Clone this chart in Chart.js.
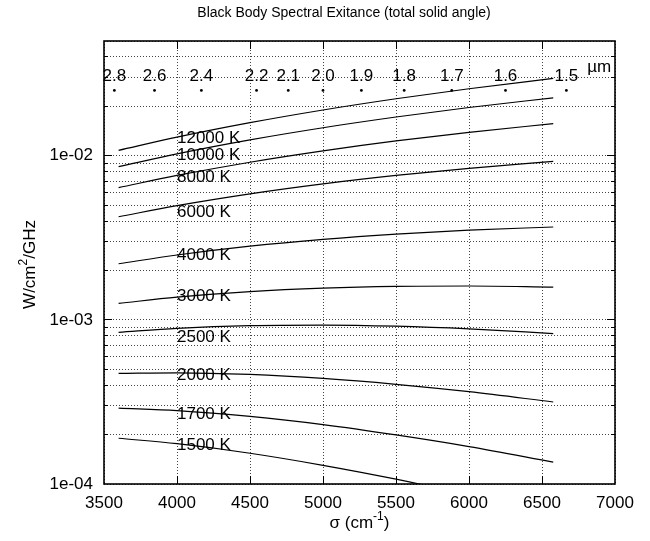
<!DOCTYPE html>
<html>
<head>
<meta charset="utf-8">
<script src="https://cdn.jsdelivr.net/npm/chart.js@4.4.1/dist/chart.umd.min.js"></script>
<style>
html, body { margin: 0; padding: 0; background: #fff; }
canvas { display: block; }
</style>
</head>
<body>
<canvas id="c" width="650" height="541"></canvas>
<script>
// Wavenumbers (cm^-1) at which each curve is sampled
const wavenumbers = [3600, 4000, 4500, 5000, 5500, 6000, 6577];

// Curve names
const temperatures = ['12000 K', '10000 K', '8000 K', '6000 K', '4000 K',
                      '3000 K', '2500 K', '2000 K', '1700 K', '1500 K'];

// Spectral exitance, W/cm^2/GHz, one array per temperature
const exitance12000 = [0.01079, 0.01298, 0.01590, 0.01900, 0.02224, 0.02560, 0.02958];
const exitance10000 = [0.008581, 0.01027, 0.01249, 0.01481, 0.01721, 0.01967, 0.02253];
const exitance8000  = [0.006395, 0.007584, 0.009125, 0.01070, 0.01230, 0.01388, 0.01569];
const exitance6000  = [0.004248, 0.004963, 0.005856, 0.006734, 0.007582, 0.008384, 0.009244];
const exitance4000  = [0.002197, 0.002484, 0.002811, 0.003095, 0.003333, 0.003522, 0.003679];
const exitance3000  = [0.001260, 0.001375, 0.001486, 0.001560, 0.001600, 0.001608, 0.001583];
const exitance2500  = [0.000839, 0.000888, 0.000923, 0.000930, 0.000915, 0.000881, 0.000825];
const exitance2000  = [0.000472, 0.000476, 0.000465, 0.000440, 0.000405, 0.000365, 0.000316];
const exitance1700  = [0.000290, 0.000280, 0.000258, 0.000230, 0.000199, 0.000169, 0.000136];
const exitance1500  = [0.000190, 0.000176, 0.000154, 0.000130, 0.000107, 0.0000856, 0.0000647];

// Where each curve's name is written (wavenumber, exitance)
const curveLabelWavenumber = 4000;
const curveLabelLevels = [0.0128, 0.0100, 0.00737, 0.00451, 0.00249,
                          0.00139, 0.000786, 0.000457, 0.000264, 0.000173];

// Wavelength scale marked along the top of the plot
const wavelengthLabels = ['2.8', '2.6', '2.4', '2.2', '2.1', '2.0', '1.9', '1.8', '1.7', '1.6', '1.5'];
const wavelengthWavenumbers = [3571, 3846, 4167, 4545, 4762, 5000, 5263, 5556, 5882, 6250, 6667];
const wavelengthDotLevel = 0.025;
const wavelengthTextLevel = 0.0305;
const wavelengthUnit = 'µm';
const wavelengthUnitPos = [6810, 0.0345];

// Axis ranges and ticks
const xMin = 3500, xMax = 7000, xStep = 500;
const yMin = 1e-4, yMax = 0.05;
const yTickValues = [
  1e-4, 2e-4, 3e-4, 4e-4, 5e-4, 6e-4, 7e-4, 8e-4, 9e-4,
  1e-3, 2e-3, 3e-3, 4e-3, 5e-3, 6e-3, 7e-3, 8e-3, 9e-3,
  1e-2, 2e-2, 3e-2, 4e-2, 5e-2
];
const yDecadeValues = [1e-4, 1e-3, 1e-2];
const yDecadeLabels = ['1e-04', '1e-03', '1e-02'];

const titleText = 'Black Body Spectral Exitance (total solid angle)';

const FONT = '"Liberation Sans", Arial, Helvetica, sans-serif';
const seriesList = [exitance12000, exitance10000, exitance8000, exitance6000, exitance4000,
                    exitance3000, exitance2500, exitance2000, exitance1700, exitance1500];

function isDecade(v) {
  return yDecadeValues.some(d => Math.abs(v / d - 1) < 1e-9);
}

const curveDatasets = seriesList.map((vals, i) => ({
  label: temperatures[i],
  data: wavenumbers.map((s, j) => ({ x: s, y: vals[j] })),
  borderColor: '#000',
  borderWidth: 1.2,
  pointRadius: 0,
  fill: false,
  cubicInterpolationMode: 'monotone'
}));

const markerDataset = {
  label: 'wavelength',
  data: wavelengthWavenumbers.map(s => ({ x: s, y: wavelengthDotLevel })),
  showLine: false,
  pointRadius: 1.4,
  pointBackgroundColor: '#000',
  pointBorderWidth: 0,
  borderColor: '#000'
};

function supText(ctx, parts, x, y, size) {
  // parts: [text, isSuperscript]; the whole run is centred on x
  const widths = parts.map(([t, sup]) => {
    ctx.font = (sup ? Math.round(size * 0.7) : size) + 'px ' + FONT;
    return ctx.measureText(t).width;
  });
  const total = widths.reduce((a, b) => a + b, 0);
  let cx = x - total / 2;
  parts.forEach(([t, sup], i) => {
    ctx.font = (sup ? Math.round(size * 0.7) : size) + 'px ' + FONT;
    ctx.fillText(t, cx, sup ? y - size * 0.4 : y);
    cx += widths[i];
  });
}

const decorations = {
  id: 'decorations',
  afterDatasetsDraw(chart) {
    const { ctx, chartArea: a, scales: { x, y } } = chart;
    const align = p => Math.round(p - 0.5) + 0.5;
    ctx.save();

    // inward tick marks on all four sides
    ctx.strokeStyle = '#000';
    ctx.lineWidth = 1;
    ctx.beginPath();
    for (let v = xMin + xStep; v < xMax; v += xStep) {
      const px = align(x.getPixelForValue(v));
      ctx.moveTo(px, a.bottom); ctx.lineTo(px, a.bottom - 8);
      ctx.moveTo(px, a.top); ctx.lineTo(px, a.top + 8);
    }
    yTickValues.forEach(v => {
      if (v <= yMin || v >= yMax) return;
      const py = align(y.getPixelForValue(v));
      const len = isDecade(v) ? 8 : 4;
      ctx.moveTo(a.left, py); ctx.lineTo(a.left + len, py);
      ctx.moveTo(a.right, py); ctx.lineTo(a.right - len, py);
    });
    ctx.stroke();

    // frame
    ctx.lineWidth = 1.6;
    ctx.strokeRect(a.left, a.top, a.right - a.left, a.bottom - a.top);

    ctx.fillStyle = '#000';
    ctx.font = '17px ' + FONT;
    ctx.textBaseline = 'middle';

    // curve names
    ctx.textAlign = 'left';
    temperatures.forEach((t, i) => {
      ctx.fillText(t, x.getPixelForValue(curveLabelWavenumber), y.getPixelForValue(curveLabelLevels[i]));
    });

    // wavelength labels
    ctx.textAlign = 'center';
    wavelengthLabels.forEach((t, i) => {
      ctx.fillText(t, x.getPixelForValue(wavelengthWavenumbers[i]), y.getPixelForValue(wavelengthTextLevel));
    });
    ctx.textAlign = 'left';
    ctx.fillText(wavelengthUnit, x.getPixelForValue(wavelengthUnitPos[0]), y.getPixelForValue(wavelengthUnitPos[1]));
    ctx.restore();
  },
  afterDraw(chart) {
    const { ctx, chartArea: a } = chart;
    ctx.save();
    ctx.fillStyle = '#000';
    ctx.textBaseline = 'middle';
    ctx.textAlign = 'left';

    // title
    ctx.font = '14px ' + FONT;
    ctx.textAlign = 'center';
    ctx.fillText(titleText, 344, 13);
    ctx.textAlign = 'left';

    // x axis title
    supText(ctx, [['σ (cm', false], ['-1', true], [')', false]], (a.left + a.right) / 2, 523, 17);

    // y axis title
    ctx.translate(30, (a.top + a.bottom) / 2 + 2);
    ctx.rotate(-Math.PI / 2);
    supText(ctx, [['W/cm', false], ['2', true], ['/GHz', false]], 0, 0, 17);
    ctx.restore();
  }
};

new Chart(document.getElementById('c'), {
  type: 'line',
  data: { datasets: [...curveDatasets, markerDataset] },
  options: {
    responsive: false,
    animation: false,
    devicePixelRatio: 1,
    layout: { padding: { left: 0, right: 35, top: 41, bottom: 0 } },
    plugins: {
      legend: { display: false },
      tooltip: { enabled: false },
      title: { display: false }
    },
    scales: {
      x: {
        type: 'linear',
        min: xMin,
        max: xMax,
        afterFit(scale) { scale.height = 57; },
        ticks: {
          stepSize: xStep,
          autoSkip: false,
          maxRotation: 0,
          padding: 9,
          color: '#000',
          font: { family: FONT, size: 17 },
          callback: v => String(v)
        },
        grid: { color: '#444', lineWidth: 1, drawTicks: false },
        border: { display: false, dash: [1, 2] }
      },
      y: {
        type: 'logarithmic',
        min: yMin,
        max: yMax,
        afterFit(scale) { scale.width = 104; },
        afterBuildTicks(scale) { scale.ticks = yTickValues.map(v => ({ value: v })); },
        ticks: {
          autoSkip: false,
          padding: 11,
          color: '#000',
          font: { family: FONT, size: 17 },
          callback: v => {
            const k = yDecadeValues.findIndex(d => Math.abs(v / d - 1) < 1e-9);
            return k >= 0 ? yDecadeLabels[k] : '';
          }
        },
        grid: { color: '#444', lineWidth: 1, drawTicks: false },
        border: { display: false, dash: [1, 2] }
      }
    }
  },
  plugins: [decorations]
});
</script>
</body>
</html>
